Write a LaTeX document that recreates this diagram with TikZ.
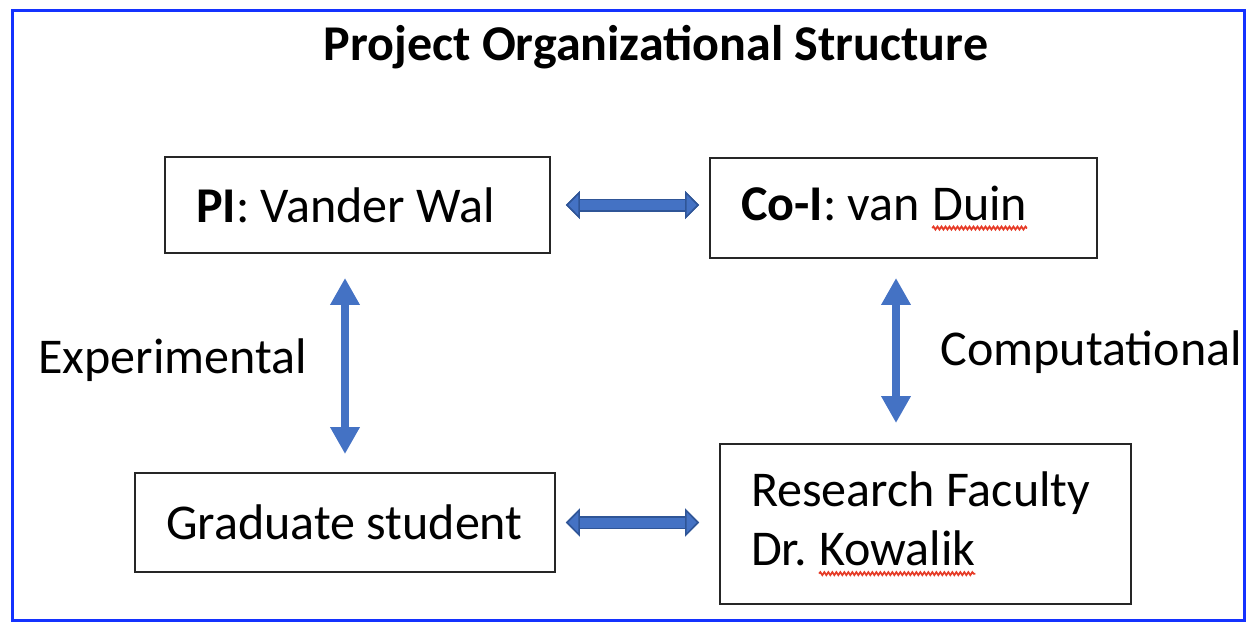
\documentclass[tikz,border=0pt]{standalone}
\usepackage{fontspec}
\setmainfont{Carlito}
\usepackage{xcolor}
\usepackage{tikz}
\usetikzlibrary{arrows.meta,positioning,decorations.pathmorphing}

\definecolor{frameblue}{RGB}{20,50,255}
\definecolor{arrowblue}{RGB}{68,114,196}
\definecolor{arrowdark}{RGB}{47,85,151}
\definecolor{wavered}{RGB}{230,60,40}

% red wavy underline
\newcommand\spellwave[1]{\tikz[baseline=(w.base)]{%
	\node[inner sep=0, outer sep=0, text width=, align=none, minimum width=0pt, minimum height=0pt, draw=none] (w) {#1};
	\draw[wavered, line width=0.035cm, decorate, decoration={snake, segment length=0.08cm, amplitude=0.03cm}]
		([yshift=-0.16cm]w.base west) -- ([yshift=-0.16cm]w.base east);}}

\begin{document}
\begin{tikzpicture}[
	x=0.02cm, y=-0.02cm,
	font=\fontsize{28.5}{33.5}\selectfont,
	member/.style = {draw=black!85, line width=0.04cm, align=flush left, inner xsep=0.62cm, inner ysep=0},
	lbl/.style = {inner sep=0, anchor=west},
	vbiarrow/.style = {draw=arrowblue, line width=0.16cm,
		{Triangle[width=0.56cm,length=0.54cm]}-{Triangle[width=0.56cm,length=0.54cm]}},
	hbiarrow/.style = {draw=arrowblue, line width=0.2cm,
		{Triangle[width=0.56cm,length=0.28cm,line width=0.03cm,color=arrowdark,fill=arrowblue]}-{Triangle[width=0.56cm,length=0.28cm,line width=0.03cm,color=arrowdark,fill=arrowblue]},
		preaction={draw=arrowdark, line width=0.26cm}}
	]

	\useasboundingbox (0,0) rectangle (1246,622);
	\draw[frameblue, line width=0.06cm] (12.5,10.5) rectangle (1244,620.5);

	\node[font=\fontsize{28.5}{34}\selectfont\bfseries] (title) at (656,47) {Project Organizational Structure};

	% the four people
	\node[member, text width=6.46cm, minimum height=1.92cm] (pi) at (357.5,205) {\textbf{PI}: Vander Wal};
	\node[member, text width=6.5cm, minimum height=2cm] (coi) at (903.5,208) {\textbf{Co-I}: van \spellwave{Duin}};
	\node[member, text width=7.16cm, minimum height=1.98cm] (grad) at (345,522.5) {Graduate student};
	\node[member, text width=6.98cm, minimum height=3.2cm] (fac) at (925.5,524) {Research Faculty\\Dr.\ \spellwave{Kowalik}};

	\node[lbl] (exp) at (38,360) {Experimental};
	\node[lbl] (comp) at (940,352) {Computational};

	% links
	\draw[hbiarrow] ([xshift=0.3cm]pi.east) -- ([xshift=-0.2cm]pi.east -| coi.west);
	\draw[hbiarrow] ([xshift=0.2cm]grad.east) -- ([xshift=-0.4cm]grad.east -| fac.west);
	\draw[vbiarrow] ([yshift=-0.48cm]pi.south -| grad.north) -- ([yshift=0.36cm]grad.north);
	\draw[vbiarrow] ([xshift=-0.15cm,yshift=-0.38cm]coi.south) -- ([xshift=-0.15cm,yshift=0.4cm]coi.south |- fac.north);

\end{tikzpicture}
\end{document}
